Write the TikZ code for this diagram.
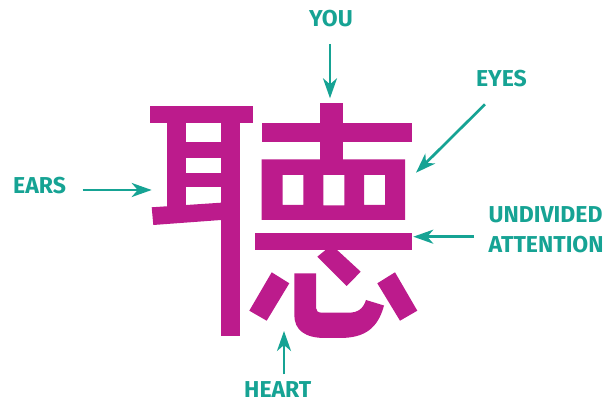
\documentclass[tikz,border=0pt]{standalone}
\usepackage{fontspec}
\setmainfont{Fira Sans}
\usetikzlibrary{arrows.meta}
\definecolor{mag}{HTML}{BC1B8C}
\definecolor{teal}{HTML}{16A394}
\tikzset{
  stroke/.style={fill=mag, draw=none},
  lbl/.style={text=teal, font=\bfseries\fontsize{23}{30}\selectfont, inner sep=0pt},
  pointer/.style={draw=teal, line width=2.7pt, -{Stealth[length=20pt,width=14pt,inset=6pt]}}
}
\begin{document}
\begin{tikzpicture}[x=1pt,y=-1pt]
\useasboundingbox (0,0) rectangle (608,403);
% ---- character: left part (ear)
\fill[stroke] (150,106) rectangle (253.3,123.3);
\fill[stroke] (167.3,123.3) rectangle (186,210);
\fill[stroke] (221,123.3) rectangle (240,336);
\fill[stroke] (186,141.7) rectangle (221,158.3);
\fill[stroke] (186,172.7) rectangle (221,187.3);
\fill[stroke] (151.7,207.3) -- (221,202.7) -- (221,220) -- (153.3,225) -- cycle;
% ---- right part
\fill[stroke] (320,102.7) rectangle (343.3,160);
\fill[stroke] (261.7,123.3) rectangle (411.7,141.7);
\fill[stroke, even odd rule] (261.7,159.3) rectangle (405,220)
   (282.7,175) rectangle (303.3,205)
   (323.3,175) rectangle (344.3,205.5)
   (364,175) rectangle (385,205);
\fill[stroke] (255,232.7) rectangle (411.7,250);
% heart
\fill[stroke] (317.3,256.7) -- (331.7,245) -- (360.7,271.7) -- (346.7,286) -- cycle;
\fill[stroke] (271.7,272.3) -- (289.3,283.3) -- (266.7,320.7) -- (249.3,310.7) -- cycle;
\fill[stroke] (377.3,283.3) -- (395,272.3) -- (417.3,310.7) -- (400,320.7) -- cycle;
\fill[stroke] (294.3,273.3) -- (316,273.3) -- (316,308)
   .. controls (316,311) and (318,312.7) .. (322,312.7) -- (348,312.7)
   .. controls (358,312.7) and (363,309) .. (366,300) -- (384,305.5)
   .. controls (378,328) and (365,338) .. (340,338) -- (325,338)
   .. controls (305,338) and (294.3,330) .. (294.3,315) -- cycle;
% ---- labels
\node[lbl, anchor=base west] (ears) at (13,194) {EARS};
\node[lbl, anchor=base] (you) at (331,27) {YOU};
\node[lbl, anchor=base west] (eyes) at (476,87) {EYES};
\node[lbl, anchor=base west, align=left] (undiv) at (488.5,253) {UNDIVIDED\\ATTENTION};
\node[lbl, anchor=base west] (heart) at (244,397) {HEART};
% ---- arrow ends
\coordinate (earsS) at (82.7,190);   \coordinate (earsT) at (151.7,190);
\coordinate (youS) at (330,44);      \coordinate (youT) at (330,98.3);
\coordinate (eyesS) at (485,104.3);  \coordinate (eyesT) at (416,172.7);
\coordinate (undS) at (474,236.7);   \coordinate (undT) at (413.3,236.7);
\coordinate (heartS) at (284,374.3); \coordinate (heartT) at (284,331);
\draw[pointer] (earsS) -- (earsT);
\draw[pointer] (youS) -- (youT);
\draw[pointer] (eyesS) -- (eyesT);
\draw[pointer] (undS) -- (undT);
\draw[pointer] (heartS) -- (heartT);
\end{tikzpicture}
\end{document}
